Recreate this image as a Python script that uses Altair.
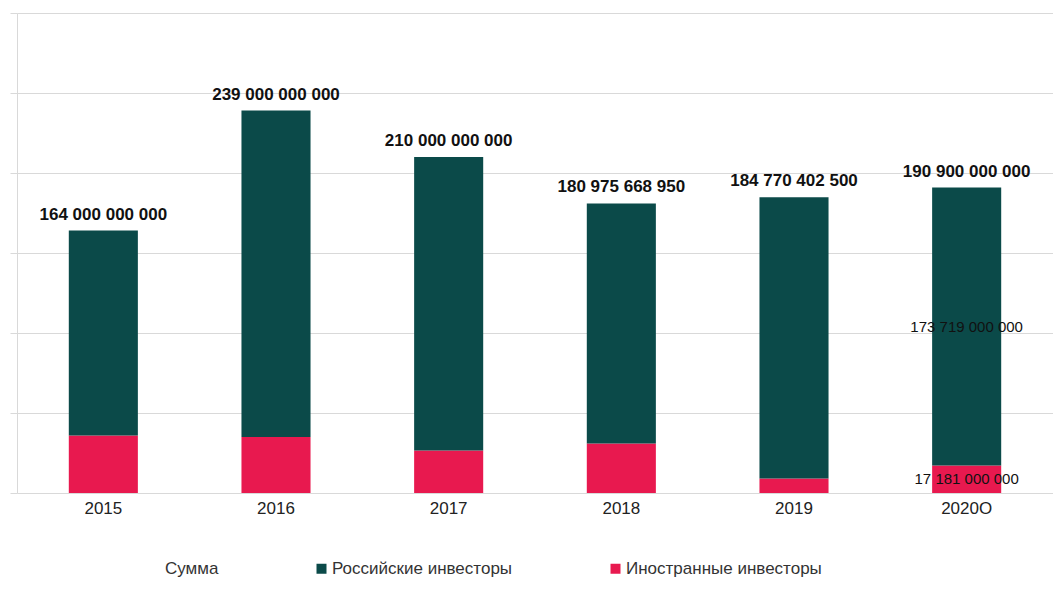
import altair as alt
import pandas as pd

years = ["2015", "2016", "2017", "2018", "2019", "2020O"]
totals = [164000000000, 239000000000, 210000000000, 180975668950, 184770402500, 190900000000]
russian = [128000000000, 204000000000, 183500000000, 150100000000, 175800000000, 173719000000]
foreign = [36000000000, 35000000000, 26500000000, 30900000000, 9000000000, 17181000000]
show_inner = [False, False, False, False, False, True]

series_names = ["Сумма", "Российские инвесторы", "Иностранные инвесторы"]
series_colors = ["#ffffff", "#0b4a49", "#e8194f"]
y_ticks = [0, 50e9, 100e9, 150e9, 200e9, 250e9, 300e9]


def fmt(v):
    return f"{int(round(v)):,}".replace(",", " ")


rows = []
for i, y in enumerate(years):
    rows.append({"year": y, "series": "Иностранные инвесторы", "value": foreign[i], "ord": 0,
                 "lo": 0, "hi": foreign[i], "label": fmt(foreign[i]) if show_inner[i] else ""})
    rows.append({"year": y, "series": "Российские инвесторы", "value": russian[i], "ord": 1,
                 "lo": foreign[i], "hi": foreign[i] + russian[i],
                 "label": fmt(russian[i]) if show_inner[i] else ""})
seg = pd.DataFrame(rows)
seg["mid"] = (seg["lo"] + seg["hi"]) / 2
tot = pd.DataFrame({"year": years, "total": totals, "label": [fmt(t) for t in totals]})

FONT = "Liberation Sans"

x_enc = alt.X("year:N", sort=years, title=None,
              scale=alt.Scale(paddingInner=0.6, paddingOuter=0.3),
              axis=alt.Axis(labelFontSize=17, labelColor="#222222", labelFont=FONT, ticks=False,
                            domain=False, labelPadding=7, labelAngle=0))
y_scale = alt.Scale(domain=[0, 300e9], nice=False, zero=True)

bars = alt.Chart(seg).mark_bar(stroke=None).encode(
    x=x_enc,
    y=alt.Y("lo:Q", scale=y_scale, title=None,
            axis=alt.Axis(values=y_ticks, labels=False, tickSize=7, tickColor="#d9d9d9",
                          domainColor="#d9d9d9", gridColor="#d9d9d9", grid=True)),
    y2="hi:Q",
    color=alt.Color("series:N",
                    scale=alt.Scale(domain=series_names, range=series_colors),
                    legend=alt.Legend(title=None, orient="none", legendX=129, legendY=547,
                                      direction="horizontal", columnPadding=94, labelOffset=2,
                                      symbolType="square", symbolSize=100, symbolStrokeWidth=0,
                                      labelFontSize=17, labelFont=FONT, labelColor="#333333",
                                      labelLimit=400)),
)

inner = alt.Chart(seg).mark_text(font=FONT, fontSize=15, color="#111111", baseline="middle").encode(
    x=alt.X("year:N", sort=years),
    y=alt.Y("mid:Q", scale=y_scale),
    text="label:N",
)

top = alt.Chart(tot).mark_text(font=FONT, fontSize=17, fontWeight="bold", color="#111111",
                               baseline="bottom", dy=-7).encode(
    x=alt.X("year:N", sort=years),
    y=alt.Y("total:Q", scale=y_scale),
    text="label:N",
)

chart = alt.layer(bars, inner, top).properties(
    width=1036, height=480,
    padding={"left": 1, "top": 4, "right": 0, "bottom": 0},
).configure_view(stroke=None).configure_axis(labelFont=FONT)

chart.save("out.html", embed_options={"renderer": "svg", "actions": False})
